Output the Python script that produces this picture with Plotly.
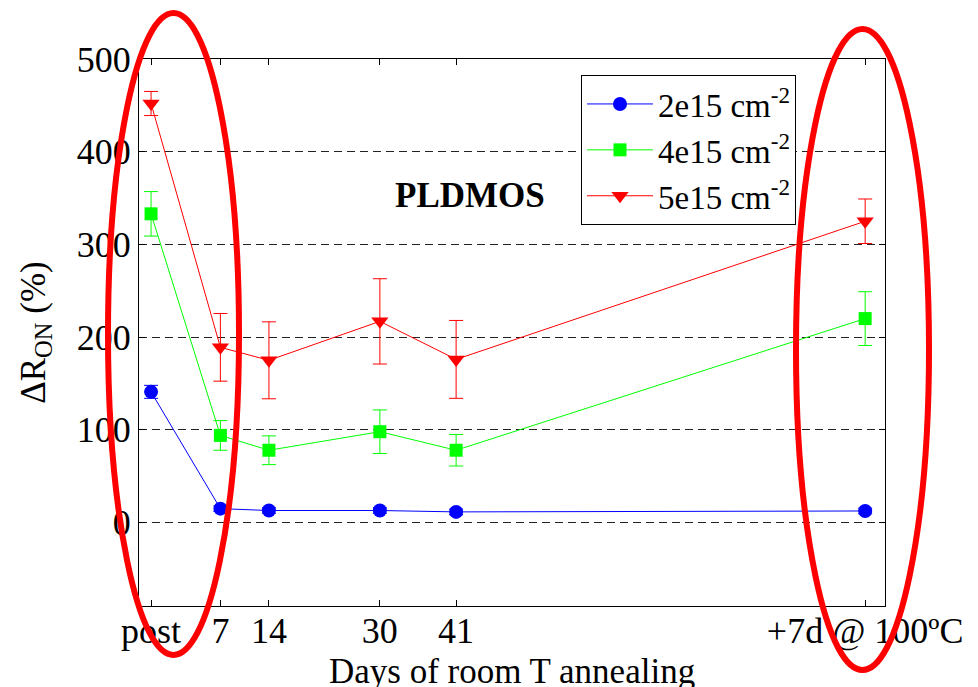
import plotly.graph_objects as go

# Annealing steps: "post" irradiation, days at room T, then +7 days at 100 ºC
days = [-3, 7, 14, 30, 41, 100]
tick_text = ["post", "7", "14", "30", "41", "+7d @ 100ºC"]

# ΔR_ON (%) for each fluence, with error bar half-widths
ron_2e15 = [141, 15, 13, 13, 11.5, 12.5]
err_2e15 = [7, 3, 3, 3, 3, 3]
ron_4e15 = [333, 94, 78, 98, 78, 220]
err_4e15 = [24, 16, 15.5, 23.5, 17, 29]
ron_5e15 = [452, 189, 175, 217, 176, 325]
err_5e15 = [13, 36.5, 41.5, 46, 42, 24]

names = ["2e15 cm<sup>-2</sup>", "4e15 cm<sup>-2</sup>", "5e15 cm<sup>-2</sup>"]

FONT = "Liberation Serif"
W, H = 978, 687
L, R, T, B = 139, 93, 59, 81
PW, PH = W - L - R, H - T - B

fig = go.Figure()
series = [
    (ron_2e15, err_2e15, names[0], "#0000FF", "circle", 14),
    (ron_4e15, err_4e15, names[1], "#00FF00", "square", 13),
    (ron_5e15, err_5e15, names[2], "#FF0000", "triangle-down", 15),
]
for vals, errs, name, color, symbol, size in series:
    fig.add_trace(go.Scatter(
        x=days, y=vals, name=name, mode="lines+markers",
        line=dict(color=color, width=1),
        marker=dict(color=color, symbol=symbol, size=size),
        error_y=dict(type="data", array=errs, visible=True,
                     color=color, thickness=1, width=7),
    ))


def px_to_paper(x0, y0, x1, y1):
    """Convert a pixel box on the page to paper coordinates."""
    return dict(x0=(x0 - L) / PW, x1=(x1 - L) / PW,
                y0=(H - B - y1) / PH, y1=(H - B - y0) / PH)


# Red highlight ellipses around the first and last annealing steps
for box in [(108, 13, 239, 655), (796, 29, 929, 670)]:
    fig.add_shape(type="circle", xref="paper", yref="paper",
                  line=dict(color="#FF0000", width=6), layer="above",
                  **px_to_paper(*box))

fig.add_annotation(x=43, y=353, xref="x", yref="y", text="<b>PLDMOS</b>",
                   showarrow=False, font=dict(family=FONT, size=35, color="black"))

# x-axis title, set just below the tick labels
fig.add_annotation(x=0.5, y=(H - B - 671) / PH, xref="paper", yref="paper",
                   xanchor="center", yanchor="middle", showarrow=False,
                   text="Days of room T annealing",
                   font=dict(family=FONT, size=35, color="black"))

fig.update_layout(
    width=W, height=H,
    margin=dict(l=L, r=R, t=T, b=B, pad=0, autoexpand=False),
    paper_bgcolor="white", plot_bgcolor="white",
    font=dict(family=FONT, size=35, color="black"),
    showlegend=True,
    legend=dict(
        x=(581 - L) / PW, y=(H - B - 75) / PH,
        xanchor="left", yanchor="top",
        bgcolor="white", bordercolor="black", borderwidth=1,
        font=dict(family=FONT, size=33, color="black"),
        itemwidth=66, tracegroupgap=0,
    ),
    xaxis=dict(
        range=[-4.74, 102.86], tickmode="array", tickvals=days, ticktext=tick_text,
        ticks="inside", ticklen=6, tickcolor="black", mirror="ticks",
        showline=True, linecolor="black", linewidth=1,
        showgrid=False, zeroline=False, automargin=False,
        ticklabelstandoff=-7,
        tickfont=dict(family=FONT, size=36, color="black"),
    ),
    yaxis=dict(
        range=[-90, 500], tickmode="array", tickvals=[0, 100, 200, 300, 400, 500],
        ticks="inside", ticklen=6, tickcolor="black", mirror="ticks",
        showline=True, linecolor="black", linewidth=1,
        showgrid=True, gridcolor="#222222", gridwidth=1, griddash="8px,5px",
        zeroline=False, automargin=False,
        tickfont=dict(family=FONT, size=36, color="black"),
        title=dict(text="ΔR<sub>ON</sub> (%)", standoff=20,
                   font=dict(family=FONT, size=35, color="black")),
    ),
)

fig.write_html("out.html")
